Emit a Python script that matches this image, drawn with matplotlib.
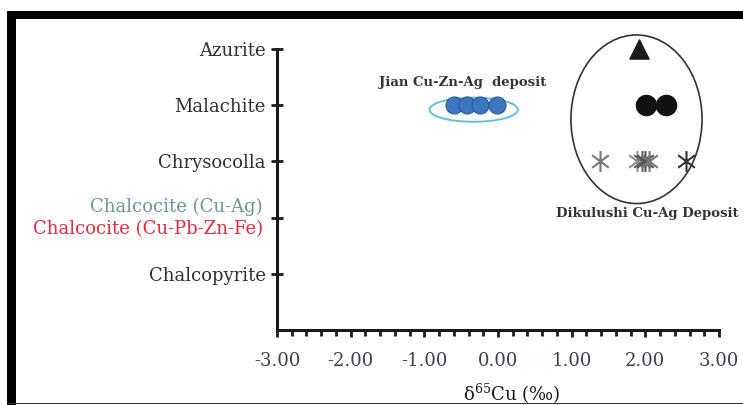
import numpy as np
import matplotlib.pyplot as plt
from matplotlib.patches import Ellipse, Rectangle
from matplotlib.path import Path

# y categories (bottom to top), x axis sits at 0
minerals = ["Chalcopyrite", "Chalcocite", "Chrysocolla", "Malachite", "Azurite"]
mineral_pos = [1, 2, 3, 4, 5]

# Jian Cu-Zn-Ag deposit, malachite
jian_x = [-0.60, -0.42, -0.25, -0.02]
jian_y = [4, 4, 4, 4]

# Dikulushi Cu-Ag deposit
dik_azurite_x = [1.92]
dik_malachite_x = [2.01, 2.28]
dik_chryso_x = [1.38, 1.89, 1.96, 2.00, 2.05, 2.55]
dik_chryso_col = ["#777777", "#909090", "#666666", "#555555", "#777777", "#333333"]

plt.rcParams['font.family'] = ['DejaVu Serif']
plt.rcParams['mathtext.fontset'] = 'dejavuserif'

# asterisk: vertical bar plus an X
star = Path([(0, -1), (0, 1), (-0.8, -0.6), (0.8, 0.6), (-0.8, 0.6), (0.8, -0.6)],
            [Path.MOVETO, Path.LINETO, Path.MOVETO, Path.LINETO, Path.MOVETO, Path.LINETO])

fig = plt.figure(figsize=(7.43, 4.05), dpi=100)
ax = fig.add_axes([277 / 743, 75 / 405, 442 / 743, 281 / 405])

ax.set_xlim(-3, 3)
ax.set_ylim(0, 5)

ax.scatter(jian_x, jian_y, s=150, color="#3f76c0", edgecolor="#2c5a9a", lw=0.8, zorder=3)
ax.add_patch(Ellipse((-0.33, 3.92), 1.2, 0.43, fill=False, ec="#5bbcd8", lw=1.3))
ax.text(-0.48, 4.4, "Jian Cu-Zn-Ag  deposit", ha="center", va="center",
        fontsize=9.5, fontweight="bold", color="#333333")

ax.scatter(dik_azurite_x, [5] * len(dik_azurite_x), marker="^", s=190, color="#1a1a1a",
           zorder=3, clip_on=False)
ax.scatter(dik_malachite_x, [4] * len(dik_malachite_x), s=210, color="#111111", zorder=3)
for x, c in zip(dik_chryso_x, dik_chryso_col):
    ax.plot(x, 3, marker=star, ms=15, mew=1.5, color=c, ls="none", zorder=3)
ax.add_patch(Ellipse((1.88, 3.75), 1.78, 3.0, fill=False, ec="#333333", lw=1.2,
                     clip_on=False))
ax.text(2.03, 2.07, "Dikulushi Cu-Ag Deposit", ha="center", va="center",
        fontsize=9.5, fontweight="bold", color="#333333", clip_on=False)

# axes styling
for s in ["top", "right"]:
    ax.spines[s].set_visible(False)
for s in ["left", "bottom"]:
    ax.spines[s].set_linewidth(2.2)
    ax.spines[s].set_color("#1a1a1a")

ax.set_xticks(np.arange(-3, 3.01, 1.0))
ax.set_xticks(np.arange(-3, 3.01, 0.2), minor=True)
ax.set_xticklabels(["%.2f" % v for v in np.arange(-3, 3.01, 1.0)])
ax.tick_params(axis="x", which="major", direction="out", length=5, width=2,
               labelsize=13, pad=11, colors="#1a1a1a", labelcolor="#3a4050")
ax.tick_params(axis="x", which="minor", direction="out", length=4, width=2, colors="#1a1a1a")

ax.set_yticks(mineral_pos)
ax.set_yticklabels([m if m != "Chalcocite" else "" for m in minerals])
ax.tick_params(axis="y", direction="inout", length=8, width=2, labelsize=13,
               pad=4, colors="#1a1a1a", labelcolor="#2e2e3a")

# two-colour chalcocite label
ax.annotate("Chalcocite (Cu-Ag)", xy=(0, 2), xycoords=("axes fraction", "data"),
            xytext=(-10, 7.5), textcoords="offset points", ha="right", va="center",
            fontsize=13, color="#6f9595")
ax.annotate("Chalcocite (Cu-Pb-Zn-Fe)", xy=(0, 2), xycoords=("axes fraction", "data"),
            xytext=(-10, -8), textcoords="offset points", ha="right", va="center",
            fontsize=13, color="#e8283a")

ax.set_xlabel("δ$^{65}$Cu (‰)", fontsize=13, color="#1a1a1a")
ax.xaxis.set_label_coords(0.53, -0.185)

# outer frame remnants
fig.add_artist(Rectangle((8 / 743, 1 - 19 / 405), 1, 8 / 405, transform=fig.transFigure,
                         color="black", lw=0))
fig.add_artist(Rectangle((7 / 743, 0), 9 / 743, 1 - 11 / 405, transform=fig.transFigure,
                         color="black", lw=0))
fig.add_artist(Rectangle((7 / 743, 1 / 405), 1, 1.5 / 405, transform=fig.transFigure,
                         color="#333333", lw=0))

fig.savefig("out.png", dpi=100)
